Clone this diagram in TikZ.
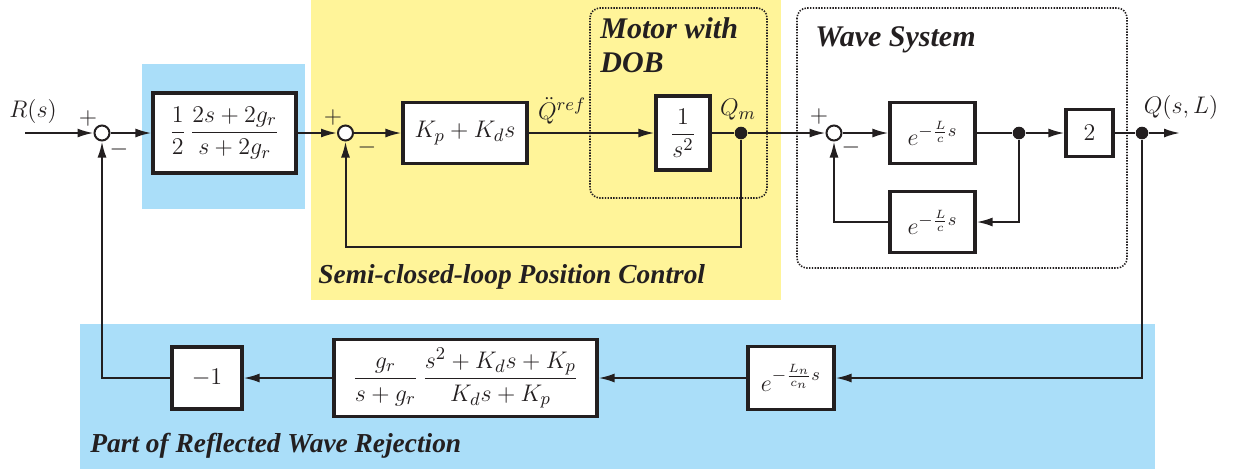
\documentclass[tikz,border=0pt]{standalone}
\usepackage{fontspec}
\usepackage{amsmath}
\newfontfamily\lblfont{Liberation Serif}
\usetikzlibrary{arrows.meta}
\definecolor{lblue}{RGB}{170,222,249}
\definecolor{lyellow}{RGB}{255,244,153}
\definecolor{ink}{RGB}{35,31,32}
\begin{document}
\begin{tikzpicture}[x=0.5pt,y=-0.5pt, font=\fontsize{12.5}{15}\selectfont,
 line/.style={draw=ink, line width=1pt},
 arr/.style={line, -{Latex[length=8pt,width=4.5pt]}},
 blk/.style={draw=ink, line width=1.6pt, fill=white, inner sep=0pt, text=ink},
 sumc/.style={circle, draw=ink, line width=1pt, fill=white, minimum size=7.5pt, inner sep=0pt},
 dotc/.style={circle, fill=ink, minimum size=6.3pt, inner sep=0pt},
 grp/.style={draw=ink, dash pattern=on 0.7pt off 0.7pt, line width=0.8pt, rounded corners=5pt},
 grptitle/.style={font=\lblfont\bfseries\itshape\fontsize{15}{17}\selectfont, text=ink, anchor=west, inner sep=0pt},
 regtitle/.style={font=\lblfont\bfseries\itshape\fontsize{13.7}{16}\selectfont, text=ink, anchor=west, inner sep=0pt},
 sign/.style={text=ink, inner sep=0pt}
]
\useasboundingbox (0,0) rectangle (1247,473);
% backgrounds
\fill[lblue] (142,64) rectangle (305,209);
\fill[lyellow] (311,0) rectangle (781,300);
\fill[lblue] (80,324) rectangle (1155,469);
\draw[grp] (590,8) rectangle (767,198);
\draw[grp] (797,8) rectangle (1127,268);
% group titles
\node[grptitle] (tmotor) at (600,28) {Motor with};
\node[grptitle] (tdob) at (600,63) {DOB};
\node[grptitle] (twave) at (815,40) {Wave System};
\node[regtitle] (tsemi) at (318,277) {Semi-closed-loop Position Control};
\node[regtitle] (tpart) at (90,446) {Part of Reflected Wave Rejection};
% nodes
\coordinate (in) at (25,133);
\node[sumc] (s1) at (102,133) {};
\node[blk, minimum width=71.5pt, minimum height=40pt] (b1) at (224.5,133) {$\dfrac{1}{2}\,\dfrac{2s+2g_r}{s+2g_r}$};
\node[sumc] (s2) at (345.5,133) {};
\node[blk, minimum width=62pt, minimum height=30.5pt] (kp) at (465,133) {$K_p+K_ds$};
\node[blk, minimum width=27pt, minimum height=37pt] (m) at (683,133) {$\dfrac{1}{s^2}$};
\node[dotc] (dm) at (741,133) {};
\node[sumc] (s3) at (834,133) {};
\node[blk, minimum width=42.5pt, minimum height=30.5pt] (e1) at (932.5,133) {$e^{-\frac{L}{c}s}$};
\node[dotc] (dw) at (1019,133) {};
\node[blk, minimum width=23.5pt, minimum height=23.5pt] (two) at (1089.5,133) {$2$};
\node[dotc] (dq) at (1142,133) {};
\coordinate (out) at (1180,133);
\node[blk, minimum width=42.5pt, minimum height=30.5pt] (e2) at (932.5,222) {$e^{-\frac{L}{c}s}$};
\node[blk, minimum width=43pt, minimum height=31.5pt] (en) at (791,378) {$e^{-\frac{L_n}{c_n}s}$};
\node[blk, minimum width=131.5pt, minimum height=38.5pt] (big) at (465.5,378) {$\dfrac{g_r}{s+g_r}\,\dfrac{s^2+K_ds+K_p}{K_ds+K_p}$};
\node[blk, minimum width=35pt, minimum height=31pt] (neg) at (207,378) {$-1$};
% connectors
\draw[arr] (in) -- (s1);
\draw[arr] (s1) -- (b1);
\draw[arr] (b1) -- (s2);
\draw[arr] (s2) -- (kp);
\draw[arr] (kp) -- (m);
\draw[line] (m) -- (dm);
\draw[arr] (dm) -- (s3);
\draw[arr] (s3) -- (e1);
\draw[line] (e1) -- (dw);
\draw[arr] (dw) -- (two);
\draw[line] (two) -- (dq);
\draw[arr] (dq) -- (out);
\draw[arr] (dm) -- ++(0,114) -| (s2);
\draw[arr] (dw) |- (e2);
\draw[arr] (e2) -| (s3);
\draw[arr] (dq) |- (en);
\draw[arr] (en) -- (big);
\draw[arr] (big) -- (neg);
\draw[arr] (neg) -| (s1);
% signs and signal labels
\node[sign] (p1) at (88,118) {$+$};
\node[sign] (n1) at (119,149) {$-$};
\node[sign] (p2) at (333,117) {$+$};
\node[sign] (n2) at (367,147) {$-$};
\node[sign] (p3) at (819,116) {$+$};
\node[sign] (n3) at (851,147) {$-$};
\node[sign] (lr) at (33,111) {$R(s)$};
\node[sign] (lq) at (562,111) {$\ddot{Q}^{ref}$};
\node[sign] (lqm) at (738,110) {$Q_m$};
\node[sign] (lqs) at (1181,107) {$Q(s,L)$};
\end{tikzpicture}
\end{document}
